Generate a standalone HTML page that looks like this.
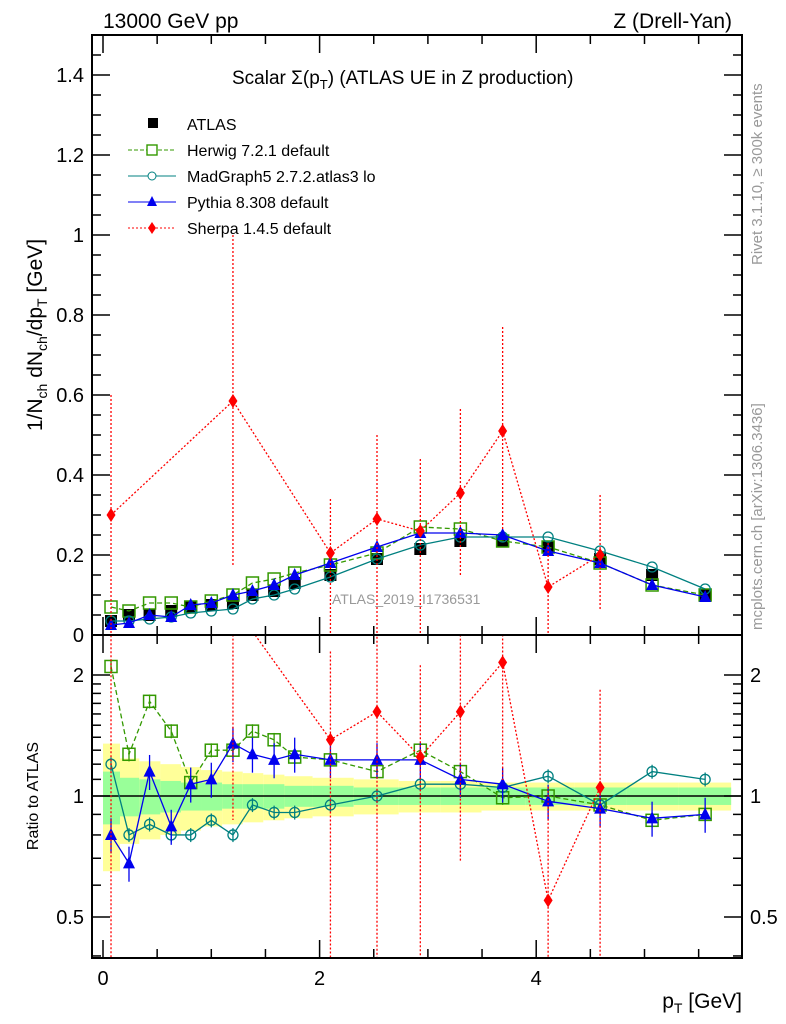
<!DOCTYPE html>
<html><head><meta charset="utf-8"><style>
html,body{margin:0;padding:0;background:#fff;width:786px;height:1024px;overflow:hidden;position:relative}
svg{font-family:"Liberation Sans",sans-serif;display:block}
</style></head><body>
<svg id="c" width="786" height="1024" style="position:absolute;left:0;top:0"></svg>
<script>
const xs=[0.074,0.24,0.43,0.63,0.81,1.0,1.2,1.38,1.58,1.77,2.1,2.53,2.93,3.3,3.69,4.11,4.59,5.07,5.56];
const atlas=[0.035,0.05,0.05,0.06,0.07,0.075,0.08,0.1,0.11,0.13,0.15,0.19,0.215,0.235,0.235,0.22,0.19,0.15,0.1];
const herwig=[0.07,0.06,0.08,0.08,0.07,0.085,0.1,0.13,0.14,0.155,0.175,0.205,0.27,0.265,0.235,0.22,0.18,0.125,0.1];
const madgraph=[0.035,0.035,0.04,0.045,0.055,0.06,0.065,0.09,0.1,0.115,0.145,0.19,0.225,0.245,0.245,0.245,0.21,0.17,0.115];
const pythia=[0.025,0.03,0.05,0.045,0.075,0.08,0.1,0.11,0.125,0.15,0.18,0.22,0.255,0.255,0.25,0.21,0.18,0.125,0.095];
const sherpaX=[0.074,1.2,2.1,2.53,2.93,3.3,3.69,4.11,4.59];
const sherpa=[0.3,0.585,0.205,0.29,0.26,0.355,0.51,0.12,0.2];
const sherpaHi=[0.6,1.0,0.34,0.5,0.44,0.565,0.77,0.23,0.35];
const sherpaLo=[-0.1,0.17,-0.1,-0.1,-0.1,0.15,0.26,-0.1,0.06];
const rHerwig=[2.1,1.27,1.72,1.45,1.08,1.3,1.3,1.45,1.38,1.25,1.23,1.15,1.3,1.15,0.99,1.0,0.95,0.87,0.9];
const rMadgraph=[1.2,0.8,0.85,0.8,0.8,0.87,0.8,0.95,0.91,0.91,0.95,1.0,1.07,1.07,1.05,1.12,0.95,1.15,1.1];
const rPythia=[0.8,0.68,1.15,0.84,1.07,1.1,1.35,1.27,1.23,1.27,1.23,1.23,1.23,1.1,1.07,0.97,0.93,0.88,0.9];
const rSherpa=[3,3,1.38,1.62,1.25,1.62,2.15,0.55,1.05];
const bandYellow=[0.35,0.24,0.22,0.2,0.18,0.16,0.15,0.14,0.13,0.12,0.11,0.1,0.09,0.09,0.08,0.08,0.08,0.08,0.08];
const bandGreen=[0.15,0.11,0.1,0.09,0.08,0.08,0.07,0.07,0.07,0.06,0.06,0.05,0.05,0.05,0.05,0.05,0.05,0.05,0.05];
const xTicks=[0,2,4];
const yTicks=[0,0.2,0.4,0.6,0.8,1,1.2,1.4];
const yTickLabels=["0","0.2","0.4","0.6","0.8","1","1.2","1.4"];

const L=92,R=742,T=35,M=635,B=958;
const X=v=>103+v*108.3;
const Y=v=>M-v*400;
const YR=r=>796-121*Math.log2(r);
const NS="http://www.w3.org/2000/svg";
const svg=document.getElementById('c');
function el(t,a,p){const e=document.createElementNS(NS,t);for(const k in a)e.setAttribute(k,a[k]);(p||svg).appendChild(e);return e;}
function txt(s,x,y,a){const e=el('text',Object.assign({x:x,y:y},a));e.textContent=s;return e;}

const defs=el('defs',{});
const cp1=el('clipPath',{id:'cm'},defs);el('rect',{x:L,y:T,width:R-L,height:M-T},cp1);
const cp2=el('clipPath',{id:'cr'},defs);el('rect',{x:L,y:M,width:R-L,height:B-M},cp2);
const gm=el('g',{'clip-path':'url(#cm)'});

const gr=el('g',{'clip-path':'url(#cr)'});


const edges=[];for(let i=0;i<xs.length;i++){edges.push(i==0?0:(xs[i-1]+xs[i])/2);}edges.push(5.8);
for(let i=0;i<xs.length;i++){
  const x0=X(edges[i]),x1=X(edges[i+1]);
  const y=el('rect',{x:x0,y:YR(1+bandYellow[i]),width:x1-x0,height:YR(1-bandYellow[i])-YR(1+bandYellow[i]),fill:'#ffff99'},gr);
  
  const g=el('rect',{x:x0,y:YR(1+bandGreen[i]),width:x1-x0,height:YR(1-bandGreen[i])-YR(1+bandGreen[i]),fill:'#99ff99'},gr);
  
}
el('line',{x1:L,x2:R,y1:YR(1),y2:YR(1),stroke:'#000','stroke-width':1.5},gr);

function series(g,xv,yv,fy,color,dash,marker,name,err){
  const pts=xv.map((x,i)=>X(x)+','+fy(yv[i])).join(' ');
  if(dash!==null){const pl=el('polyline',{points:pts,fill:'none',stroke:color,'stroke-width':1.3,'stroke-dasharray':dash},g);
  }
  xv.forEach((x,i)=>{
    const cx=X(x),cy=fy(yv[i]);
    if(err){const e=el('line',{x1:cx,x2:cx,y1:fy(yv[i]*(1+err)),y2:fy(yv[i]*(1-err)),stroke:color,'stroke-width':1.3},g);
      }
    let m;
    if(marker=='sq')m=el('rect',{x:cx-6,y:cy-6,width:12,height:12,fill:'#000'},g);
    if(marker=='osq')m=el('rect',{x:cx-6,y:cy-6,width:12,height:12,fill:'none',stroke:color,'stroke-width':1.5},g);
    if(marker=='oc')m=el('circle',{cx:cx,cy:cy,r:5,fill:'none',stroke:color,'stroke-width':1.3},g);
    if(marker=='tri')m=el('polygon',{points:`${cx},${cy-7} ${cx-6},${cy+5} ${cx+6},${cy+5}`,fill:color},g);
    if(marker=='dia')m=el('polygon',{points:`${cx},${cy-7} ${cx-4.5},${cy} ${cx},${cy+7} ${cx+4.5},${cy}`,fill:color},g);
    
  });
}
series(gm,xs,atlas,Y,'#000',null,'sq','atlas',0);
series(gm,xs,herwig,Y,'#339900','5,3','osq','herwig',0);
series(gm,xs,madgraph,Y,'#008080','','oc','madgraph',0);
series(gm,xs,pythia,Y,'#0000ee','','tri','pythia',0.05);
sherpaX.forEach((x,i)=>{const e=el('line',{x1:X(x),x2:X(x),y1:Y(sherpaHi[i]),y2:Y(sherpaLo[i]),stroke:'#ff0000','stroke-width':1.3,'stroke-dasharray':'2,2'},gm);
  });
series(gm,sherpaX,sherpa,Y,'#ff0000','2,2','dia','sherpa',0);
series(gr,xs,rHerwig,YR,'#339900','5,3','osq','herwig-ratio',0.04);
series(gr,xs,rMadgraph,YR,'#008080','','oc','madgraph-ratio',0.04);
series(gr,xs,rPythia,YR,'#0000ee','','tri','pythia-ratio',0.1);
sherpaX.forEach((x,i)=>{const e=el('line',{x1:X(x),x2:X(x),y1:YR(Math.max(0.1,rSherpa[i]*sherpaHi[i]/sherpa[i])),y2:YR(Math.max(0.1,rSherpa[i]*Math.max(0.01,sherpaLo[i])/sherpa[i])),stroke:'#ff0000','stroke-width':1.3,'stroke-dasharray':'2,2'},gr);
  });
series(gr,sherpaX,rSherpa,YR,'#ff0000','2,2','dia','sherpa-ratio',0);

const f1=el('rect',{x:L,y:T,width:R-L,height:M-T,fill:'none',stroke:'#000','stroke-width':2});

const f2=el('rect',{x:L,y:M,width:R-L,height:B-M,fill:'none',stroke:'#000','stroke-width':2});


for(let v=0;v<=5.8;v+=0.5){
  const big=Math.abs(v-Math.round(v/2)*2)<1e-6;const len=big?18:9;
  [T,M,B].forEach(yy=>{
    if(yy!==T)el('line',{x1:X(v),x2:X(v),y1:yy,y2:yy-len,stroke:'#000','stroke-width':1.5});
    if(yy===T||yy===M)el('line',{x1:X(v),x2:X(v),y1:yy,y2:yy+len,stroke:'#000','stroke-width':1.5});
  });
}
xTicks.forEach(v=>{const t=txt(String(v),X(v),985,{'font-size':20,'text-anchor':'middle'});
  });
for(let v=0;v<=1.5;v+=0.05){
  const big=Math.abs(v*5-Math.round(v*5))<1e-6;const len=big?18:9;
  el('line',{x1:L,x2:L+len,y1:Y(v),y2:Y(v),stroke:'#000','stroke-width':1.5});
  el('line',{x1:R,x2:R-len,y1:Y(v),y2:Y(v),stroke:'#000','stroke-width':1.5});
}
yTicks.forEach((v,i)=>{const t=txt(yTickLabels[i],84,Y(v)+7,{'font-size':20,'text-anchor':'end'});
  });
[0.4,0.5,0.6,0.7,0.8,0.9,1,2].forEach(v=>{const big=(v==0.5||v==1||v==2);const len=big?18:9;
  el('line',{x1:L,x2:L+len,y1:YR(v),y2:YR(v),stroke:'#000','stroke-width':1.5});
  el('line',{x1:R,x2:R-len,y1:YR(v),y2:YR(v),stroke:'#000','stroke-width':1.5});});
for(let v=1.1;v<2;v+=0.1){el('line',{x1:L,x2:L+9,y1:YR(v),y2:YR(v),stroke:'#000','stroke-width':1.5});el('line',{x1:R,x2:R-9,y1:YR(v),y2:YR(v),stroke:'#000','stroke-width':1.5});}
[[2,'2'],[1,'1'],[0.5,'0.5']].forEach(([v,s])=>{
  const a=txt(s,84,YR(v)+7,{'font-size':20,'text-anchor':'end'});
  const b=txt(s,750,YR(v)+7,{'font-size':20});});
</script>
<svg width="786" height="1024" style="position:absolute;left:0;top:0">
<g font-family="Liberation Sans, sans-serif">
<text x="103" y="28" font-size="21">13000 GeV pp</text>
<text x="732" y="28" font-size="21" text-anchor="end">Z (Drell-Yan)</text>
<text x="232" y="84" font-size="19">Scalar Σ(p<tspan font-size="13" dy="5">T</tspan><tspan dy="-5">) (ATLAS UE in Z production)</tspan></text>
<g font-size="16">
<rect x="148" y="118" width="10" height="10" fill="#000"/>
<text x="187" y="130">ATLAS</text>
<line x1="128" x2="176" y1="150" y2="150" stroke="#339900" stroke-dasharray="4,2"/><rect x="147" y="145" width="10" height="10" fill="#fff" stroke="#339900" stroke-width="1.4"/>
<text x="187" y="156">Herwig 7.2.1 default</text>
<line x1="128" x2="176" y1="176" y2="176" stroke="#008080"/><circle cx="152" cy="176" r="4" fill="#fff" stroke="#008080"/>
<text x="187" y="182">MadGraph5 2.7.2.atlas3 lo</text>
<line x1="128" x2="176" y1="202" y2="202" stroke="#0000ee"/><polygon points="152,196 147,206 157,206" fill="#0000ee"/>
<text x="187" y="208">Pythia 8.308 default</text>
<line x1="128" x2="176" y1="228" y2="228" stroke="#ff0000" stroke-dasharray="2,2"/><polygon points="152,222 148,228 152,234 156,228" fill="#ff0000"/>
<text x="187" y="234">Sherpa 1.4.5 default</text>
</g>
<text x="332" y="604" font-size="14" fill="#999">ATLAS_2019_I1736531</text>
<text transform="translate(42,335) rotate(-90)" font-size="21" text-anchor="middle">1/N<tspan font-size="14" dy="5">ch</tspan><tspan dy="-5"> dN</tspan><tspan font-size="14" dy="5">ch</tspan><tspan dy="-5">/dp</tspan><tspan font-size="14" dy="5">T</tspan><tspan dy="-5"> [GeV]</tspan></text>
<text transform="translate(38,796) rotate(-90)" font-size="16" text-anchor="middle">Ratio to ATLAS</text>
<text x="742" y="1008" font-size="21" text-anchor="end">p<tspan font-size="14" dy="5">T</tspan><tspan dy="-5"> [GeV]</tspan></text>
<text transform="translate(762,265) rotate(-90)" font-size="15" fill="#999">Rivet 3.1.10, ≥ 300k events</text>
<text transform="translate(762,630) rotate(-90)" font-size="15" fill="#999">mcplots.cern.ch [arXiv:1306.3436]</text>
</g></svg>
</body></html>
